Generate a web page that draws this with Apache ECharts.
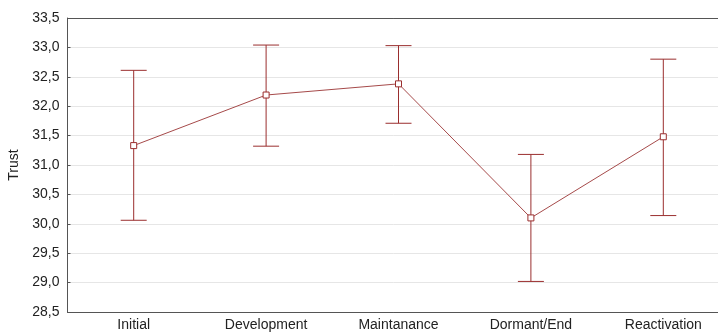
<!DOCTYPE html>
<html>
<head>
<meta charset="utf-8">
<script src="https://cdn.jsdelivr.net/npm/echarts@6/dist/echarts.min.js"></script>
<style>html,body{margin:0;padding:0;background:#fff}#c{width:718px;height:333px}</style>
</head>
<body>
<div id="c"></div>
<script>
const categories = ['Initial', 'Development', 'Maintanance', 'Dormant/End', 'Reactivation'];
const means = [31.33, 32.19, 32.38, 30.10, 31.48];
const upper = [32.61, 33.04, 33.03, 31.18, 32.80];
const lower = [30.06, 31.32, 31.71, 29.02, 30.14];
const yTicks = { min: 28.5, max: 33.5, interval: 0.5 };

const red = '#9a2e2e';
const font = 'Liberation Sans, Arial, sans-serif';
const chart = echarts.init(document.getElementById('c'), null, { renderer: 'canvas' });

const errData = categories.map((c, i) => [i, lower[i], upper[i]]);

chart.setOption({
  animation: false,
  backgroundColor: '#fff',
  textStyle: { fontFamily: font },
  grid: { left: 67.5, top: 18, right: -11.5, bottom: 21, containLabel: false, outerBoundsMode: 'none' },
  xAxis: [{
    type: 'category',
    data: categories,
    boundaryGap: true,
    axisLine: { lineStyle: { color: '#555', width: 1 } },
    axisTick: { inside: true, alignWithLabel: true, length: 4, lineStyle: { color: '#555' } },
    axisLabel: { color: '#222', fontSize: 14, margin: 6, fontFamily: font },
    splitLine: { show: false }
  }, {
    type: 'category',
    data: categories,
    position: 'top',
    boundaryGap: true,
    axisLine: { show: true, onZero: false, lineStyle: { color: '#555', width: 1 } },
    axisTick: { inside: true, alignWithLabel: true, length: 4, lineStyle: { color: '#555' } },
    axisLabel: { show: false }
  }],
  yAxis: {
    type: 'value',
    min: yTicks.min, max: yTicks.max, interval: yTicks.interval,
    name: 'Trust',
    nameLocation: 'middle',
    nameGap: 46,
    nameTextStyle: { color: '#222', fontSize: 14, fontFamily: font },
    axisLine: { show: true, lineStyle: { color: '#555', width: 1 } },
    axisTick: { show: true, inside: true, length: 3, lineStyle: { color: '#555' } },
    axisLabel: {
      color: '#222', fontSize: 14, margin: 8,
      fontFamily: font,
      formatter: v => v.toFixed(1).replace('.', ',')
    },
    splitLine: { show: true, lineStyle: { color: '#e6e6e6', width: 1 } }
  },
  series: [{
    type: 'custom',
    data: errData,
    z: 3,
    renderItem: function (params, api) {
      const x = api.value(0);
      const lo = api.coord([x, api.value(1)]);
      const hi = api.coord([x, api.value(2)]);
      const hw = 13;
      const style = { stroke: red, lineWidth: 1, fill: null };
      return {
        type: 'group',
        children: [
          { type: 'line', shape: { x1: lo[0], y1: lo[1], x2: hi[0], y2: hi[1] }, style },
          { type: 'line', shape: { x1: lo[0] - hw, y1: lo[1], x2: lo[0] + hw, y2: lo[1] }, style },
          { type: 'line', shape: { x1: hi[0] - hw, y1: hi[1], x2: hi[0] + hw, y2: hi[1] }, style }
        ]
      };
    }
  }, {
    type: 'line',
    data: means,
    z: 4,
    symbol: 'rect',
    symbolSize: 6,
    lineStyle: { color: '#a64a4a', width: 1 },
    itemStyle: { color: '#fff', borderColor: red, borderWidth: 1 }
  }]
});
</script>
</body>
</html>
